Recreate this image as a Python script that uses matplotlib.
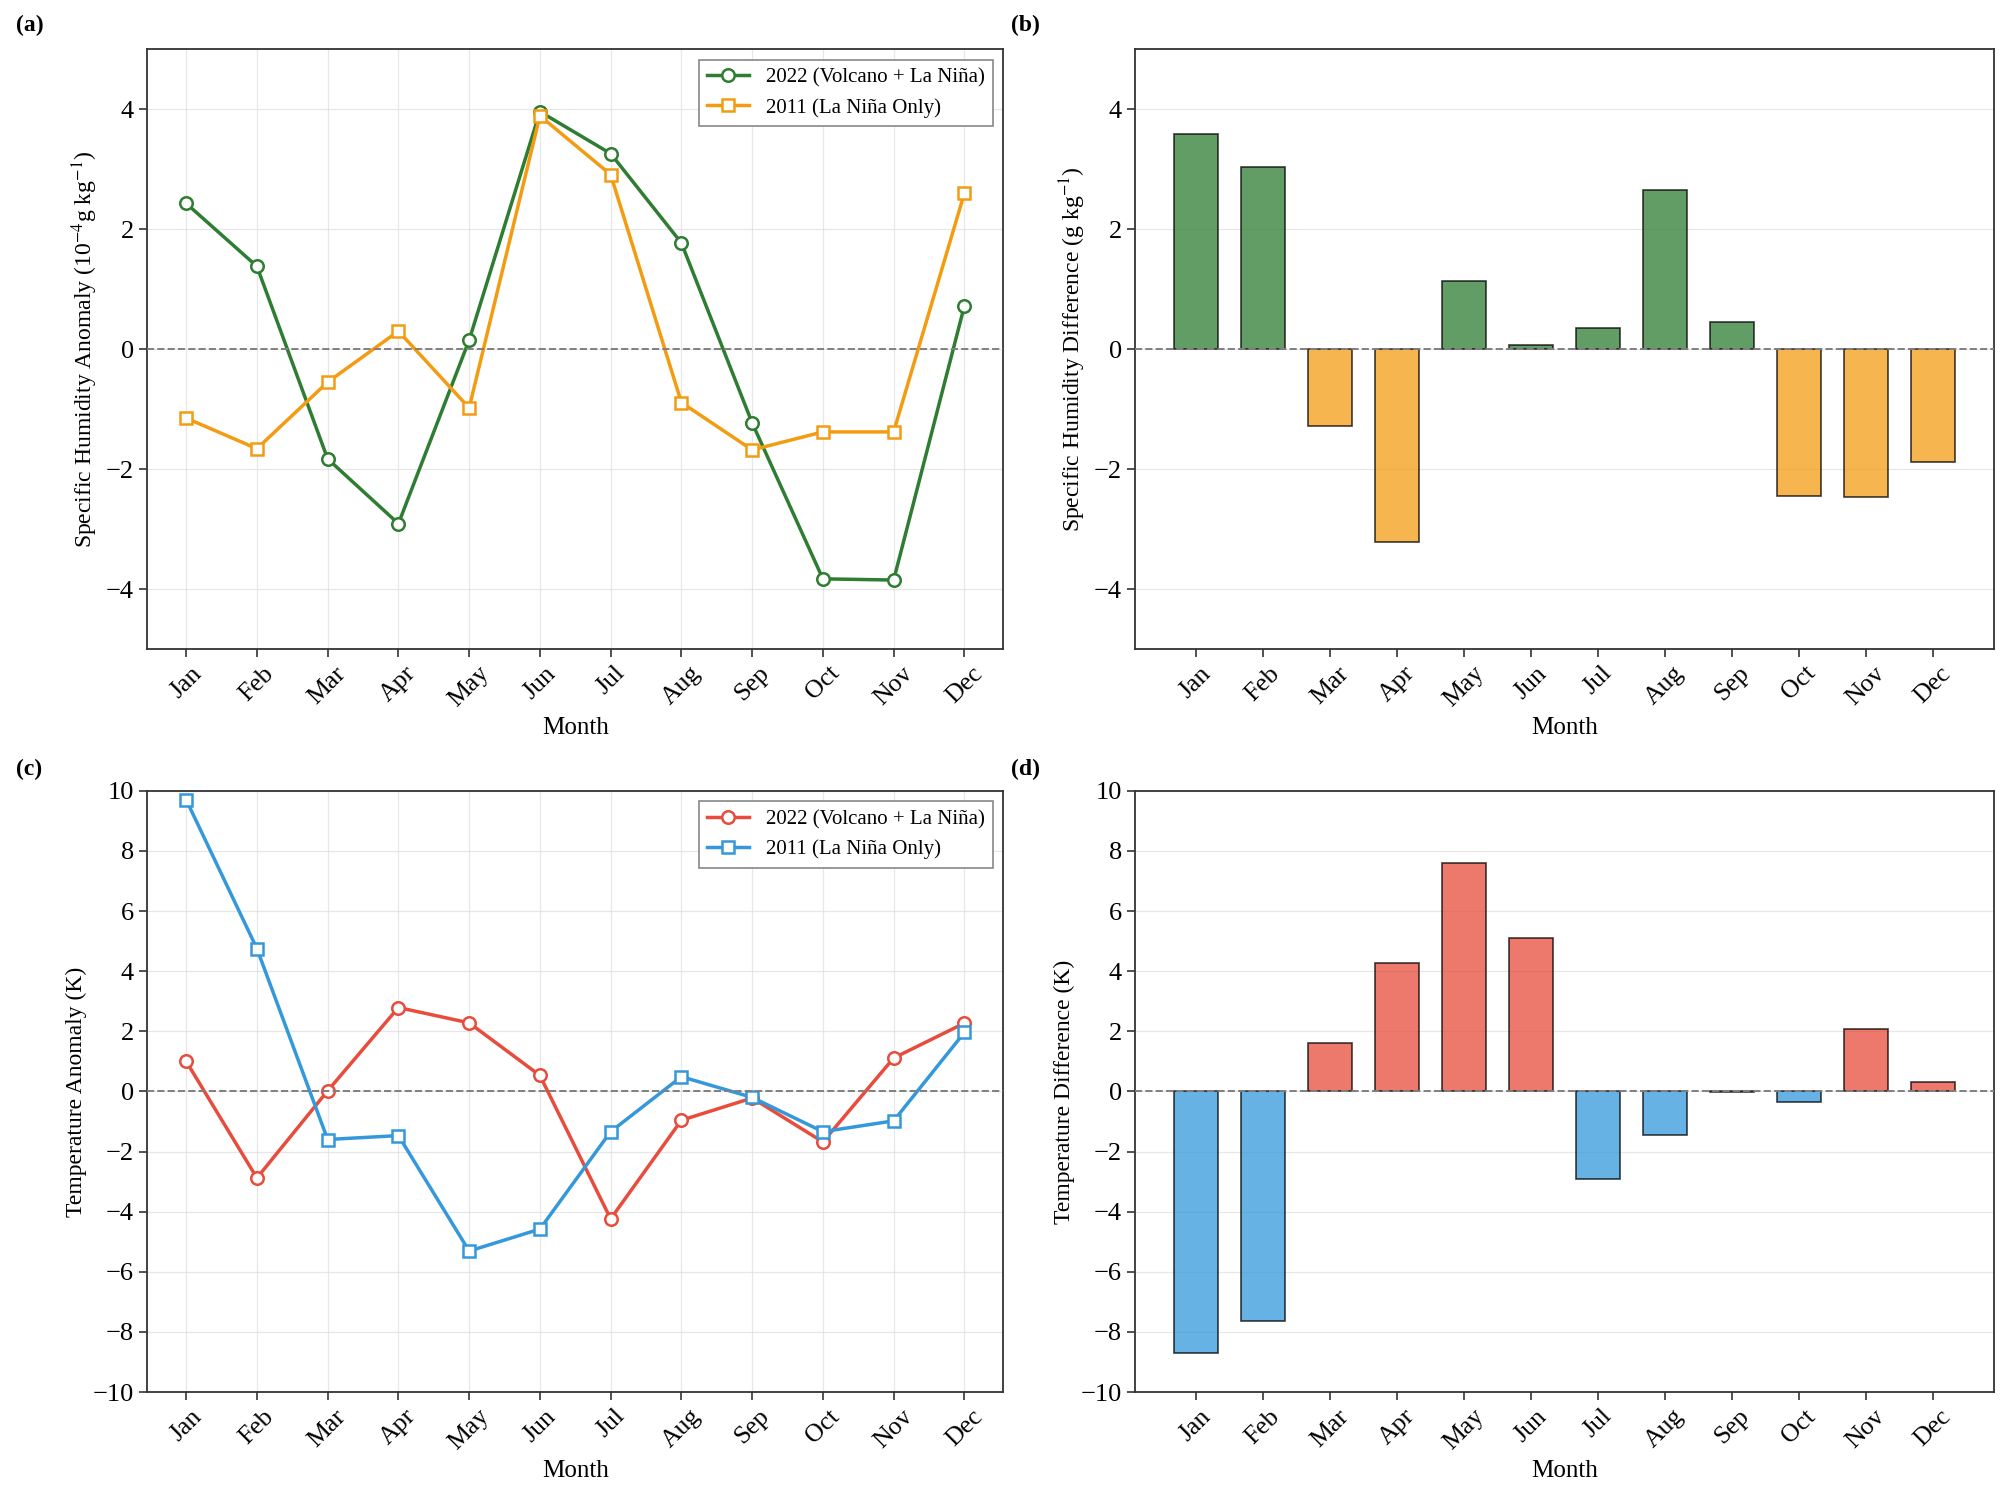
import numpy as np
import matplotlib
matplotlib.use("Agg")
import matplotlib.pyplot as plt

plt.rcParams['font.family'] = ['Liberation Serif', 'DejaVu Serif']
plt.rcParams['mathtext.fontset'] = 'stix'

months = ['Jan', 'Feb', 'Mar', 'Apr', 'May', 'Jun', 'Jul', 'Aug', 'Sep', 'Oct', 'Nov', 'Dec']

# specific humidity anomaly (10^-4 g/kg)
q_2022 = [2.43, 1.38, -1.83, -2.91, 0.15, 3.96, 3.26, 1.77, -1.23, -3.83, -3.85, 0.72]
q_2011 = [-1.15, -1.66, -0.55, 0.30, -0.98, 3.89, 2.91, -0.89, -1.68, -1.38, -1.38, 2.60]

# temperature anomaly (K)
t_2022 = [1.00, -2.88, 0.02, 2.79, 2.28, 0.53, -4.24, -0.96, -0.22, -1.68, 1.11, 2.27]
t_2011 = [9.70, 4.75, -1.60, -1.47, -5.31, -4.58, -1.34, 0.49, -0.20, -1.34, -0.98, 1.96]

green = '#2e7d32'
orange = '#f39c12'
red = '#e74c3c'
blue = '#3498db'

fig = plt.figure(figsize=(20.09, 14.92), dpi=100)
x = np.arange(len(months))

axes_pos = {
    'a': [0.0733, 0.565, 0.4261, 0.402],
    'b': [0.565, 0.565, 0.4273, 0.402],
    'c': [0.0733, 0.067, 0.4261, 0.403],
    'd': [0.565, 0.067, 0.4273, 0.403],
}


def style_axis(ax, ylim, yticks):
    ax.set_ylim(*ylim)
    ax.set_yticks(yticks)
    ax.set_xticks(x)
    ax.set_xticklabels(months, rotation=45, fontsize=18.5)
    ax.tick_params(axis='y', labelsize=19)
    ax.tick_params(length=6, width=1.2, color='#333333')
    ax.set_xlabel('Month', fontsize=18, labelpad=4)
    for s in ax.spines.values():
        s.set_color('#333333')
        s.set_linewidth(1.3)
    ax.axhline(0, color='gray', linestyle='--', linewidth=1.4, zorder=5)


def line_panel(ax, y1, y2, c1, c2, ylabel, ylim, yticks):
    ax.plot(x, y1, '-o', color=c1, lw=2.5, ms=9, mfc='white', mew=1.8,
            label='2022 (Volcano + La Niña)', zorder=3)
    ax.plot(x, y2, '-s', color=c2, lw=2.5, ms=9, mfc='white', mew=1.8,
            label='2011 (La Niña Only)', zorder=3)
    ax.grid(True, color='#dddddd', alpha=0.7, linewidth=0.9)
    style_axis(ax, ylim, yticks)
    ax.set_ylabel(ylabel, fontsize=17)
    leg = ax.legend(loc='upper right', fontsize=15, fancybox=False, framealpha=1)
    leg.get_frame().set_edgecolor('#888888')
    leg.get_frame().set_linewidth(1.2)


def bar_panel(ax, diff, c_pos, c_neg, ylabel, ylim, yticks):
    cols = [c_pos if v > 0 else c_neg for v in diff]
    ax.bar(x, diff, width=0.65, color=cols, alpha=0.75, edgecolor='black',
           linewidth=1.2, zorder=3)
    ax.grid(True, axis='y', color='#dddddd', alpha=0.7, linewidth=0.9)
    style_axis(ax, ylim, yticks)
    ax.set_ylabel(ylabel, fontsize=17)


q_diff = np.array(q_2022) - np.array(q_2011)
t_diff = np.array(t_2022) - np.array(t_2011)

ax_a = fig.add_axes(axes_pos['a'])
line_panel(ax_a, q_2022, q_2011, green, orange,
           r'Specific Humidity Anomaly (10$^{-4}$g kg$^{-1}$)', (-5, 5), [-4, -2, 0, 2, 4])

ax_b = fig.add_axes(axes_pos['b'])
bar_panel(ax_b, q_diff, green, orange,
          r'Specific Humidity Difference (g kg$^{-1}$)', (-5, 5), [-4, -2, 0, 2, 4])

ax_c = fig.add_axes(axes_pos['c'])
line_panel(ax_c, t_2022, t_2011, red, blue,
           'Temperature Anomaly (K)', (-10, 10), np.arange(-10, 11, 2))

ax_d = fig.add_axes(axes_pos['d'])
bar_panel(ax_d, t_diff, red, blue,
          'Temperature Difference (K)', (-10, 10), np.arange(-10, 11, 2))

fig.text(0.008, 0.983, '(a)', fontsize=17, fontweight='bold', va='center')
fig.text(0.503, 0.983, '(b)', fontsize=17, fontweight='bold', va='center')
fig.text(0.008, 0.484, '(c)', fontsize=17, fontweight='bold', va='center')
fig.text(0.503, 0.484, '(d)', fontsize=17, fontweight='bold', va='center')

fig.savefig('out.png', dpi=100)
